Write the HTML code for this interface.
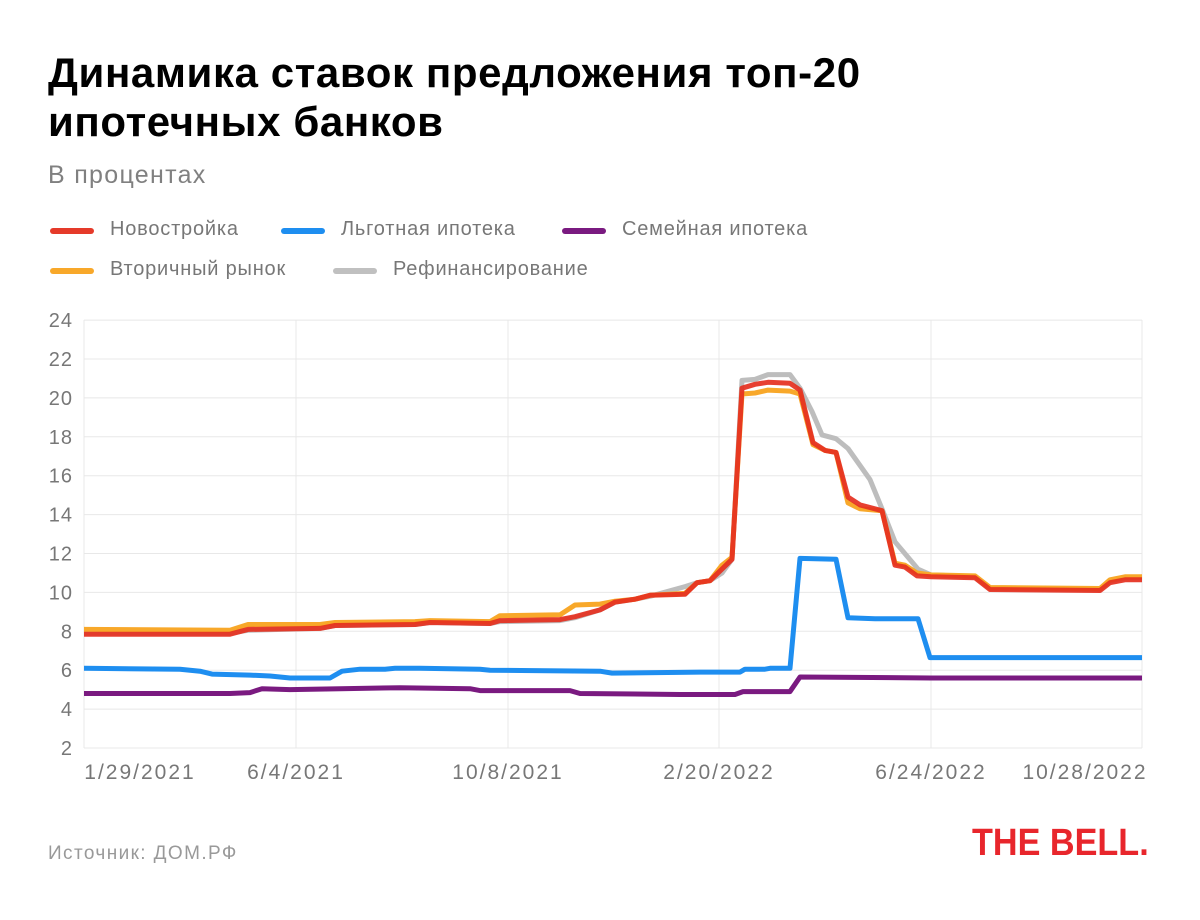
<!DOCTYPE html>
<html><head><meta charset="utf-8"><style>
body{margin:0;background:#fff;font-family:"Liberation Sans",sans-serif;}
#w{position:relative;width:1200px;height:920px;overflow:hidden;background:#fff;}
.t{position:absolute;left:48px;top:48px;font-size:42px;font-weight:bold;line-height:49px;color:#000;letter-spacing:0.6px}
.s{position:absolute;left:48px;top:161px;font-size:25px;color:#808080;letter-spacing:1.3px}
.lg{position:absolute;font-size:20px;color:#777;letter-spacing:0.8px}
.lg i{position:absolute;left:-60px;top:10px;width:44px;height:6px;border-radius:3px}
.src{position:absolute;left:48px;top:843px;font-size:19px;color:#999;letter-spacing:1.4px}
.logo{position:absolute;left:972px;top:822px;font-size:38px;font-weight:bold;color:#e8262c;transform:scaleX(0.9);transform-origin:left}
</style></head><body><div id="w">
<div class="t">Динамика ставок предложения топ-20<br>ипотечных банков</div>
<div class="s">В процентах</div>
<div class="lg" style="left:110px;top:218px"><i style="background:#e53a2a"></i>Новостройка</div>
<div class="lg" style="left:341px;top:218px"><i style="background:#1e8ef0"></i>Льготная ипотека</div>
<div class="lg" style="left:622px;top:218px"><i style="background:#7a1a80"></i>Семейная ипотека</div>
<div class="lg" style="left:110px;top:258px"><i style="background:#f8a82a"></i>Вторичный рынок</div>
<div class="lg" style="left:393px;top:258px"><i style="background:#c0c0c0"></i>Рефинансирование</div>
<svg id="c" width="1200" height="920" style="position:absolute;left:0;top:0"></svg>
<div class="src">Источник: ДОМ.РФ</div>
<div class="logo">THE BELL.</div>
</div>
<script>
function y(v){return 748-(v-2)*19.45}
var s='';
for(var v=2;v<=24;v+=2){var yy=y(v);s+='<line x1="84" x2="1142" y1="'+yy+'" y2="'+yy+'" stroke="#e8e8e8" stroke-width="1"/>';
s+='<text x="73" y="'+(yy+7)+'" text-anchor="end" font-size="20" letter-spacing="1" fill="#777" font-family="Liberation Sans">'+v+'</text>';}
[84,296,508,719,931,1142].forEach(function(x){s+='<line x1="'+x+'" x2="'+x+'" y1="320" y2="748" stroke="#e8e8e8"/>'});
[[140,'1/29/2021'],[296,'6/4/2021'],[508,'10/8/2021'],[719,'2/20/2022'],[931,'6/24/2022'],[1085,'10/28/2022']].forEach(function(a){
s+='<text x="'+a[0]+'" y="779" text-anchor="middle" font-size="21" letter-spacing="2" fill="#777" font-family="Liberation Sans">'+a[1]+'</text>'});
function pl(p,c,op){var q=[];for(var i=0;i<p.length;i+=2)q.push(p[i]+','+y(p[i+1]).toFixed(1));
s+='<polyline points="'+q.join(' ')+'" fill="none" stroke="'+c+'" stroke-width="5" stroke-linejoin="round" opacity="'+(op||1)+'"/>';}
pl([84,4.8,230,4.8,250,4.85,262,5.05,290,5.0,340,5.05,400,5.1,470,5.05,480,4.95,570,4.95,580,4.8,680,4.75,735,4.75,743,4.9,790,4.9,800,5.65,931,5.6,1142,5.6],'#7a1a80');
pl([84,6.1,180,6.05,200,5.95,212,5.8,250,5.75,270,5.7,290,5.6,330,5.6,342,5.95,360,6.05,385,6.05,395,6.1,420,6.1,480,6.05,490,6.0,600,5.95,612,5.85,700,5.9,740,5.9,745,6.05,765,6.05,770,6.1,790,6.1,800,11.75,836,11.7,848,8.7,875,8.65,918,8.65,930,6.65,1142,6.65],'#1e8ef0');
pl([84,7.9,230,7.9,248,8.05,320,8.15,335,8.3,415,8.35,430,8.45,490,8.4,500,8.5,560,8.55,575,8.7,600,9.1,615,9.5,635,9.65,650,9.8,685,10.3,697,10.5,710,10.6,722,11.0,732,11.7,742,20.9,755,20.95,768,21.2,790,21.2,800,20.5,812,19.3,822,18.1,836,17.9,848,17.4,870,15.8,882,14.3,895,12.6,918,11.2,931,10.9,975,10.8,990,10.2,1100,10.15,1110,10.6,1125,10.75,1142,10.75],'#bdbdbd');
pl([84,8.1,230,8.05,248,8.35,320,8.35,335,8.45,415,8.5,430,8.55,490,8.5,500,8.8,560,8.85,575,9.35,600,9.4,615,9.55,635,9.65,650,9.85,685,9.95,697,10.5,710,10.6,722,11.4,732,11.8,742,20.2,755,20.25,768,20.4,790,20.35,800,20.2,813,17.6,825,17.3,836,17.2,848,14.6,860,14.3,882,14.2,895,11.5,905,11.4,917,11.0,931,10.9,975,10.85,990,10.25,1100,10.2,1110,10.65,1125,10.8,1142,10.8],'#f8a82a');
pl([84,7.85,230,7.85,248,8.1,320,8.15,335,8.3,415,8.35,430,8.45,490,8.4,500,8.55,560,8.6,575,8.75,600,9.1,615,9.5,635,9.65,650,9.85,685,9.9,697,10.5,710,10.6,722,11.2,732,11.7,742,20.5,755,20.7,768,20.8,790,20.75,800,20.4,813,17.7,825,17.3,836,17.2,848,14.9,860,14.5,882,14.2,895,11.4,905,11.3,917,10.85,931,10.8,975,10.75,990,10.15,1100,10.1,1110,10.5,1125,10.65,1142,10.65],'#e5301f',0.92);
document.getElementById('c').innerHTML=s;
</script>
</body></html>
